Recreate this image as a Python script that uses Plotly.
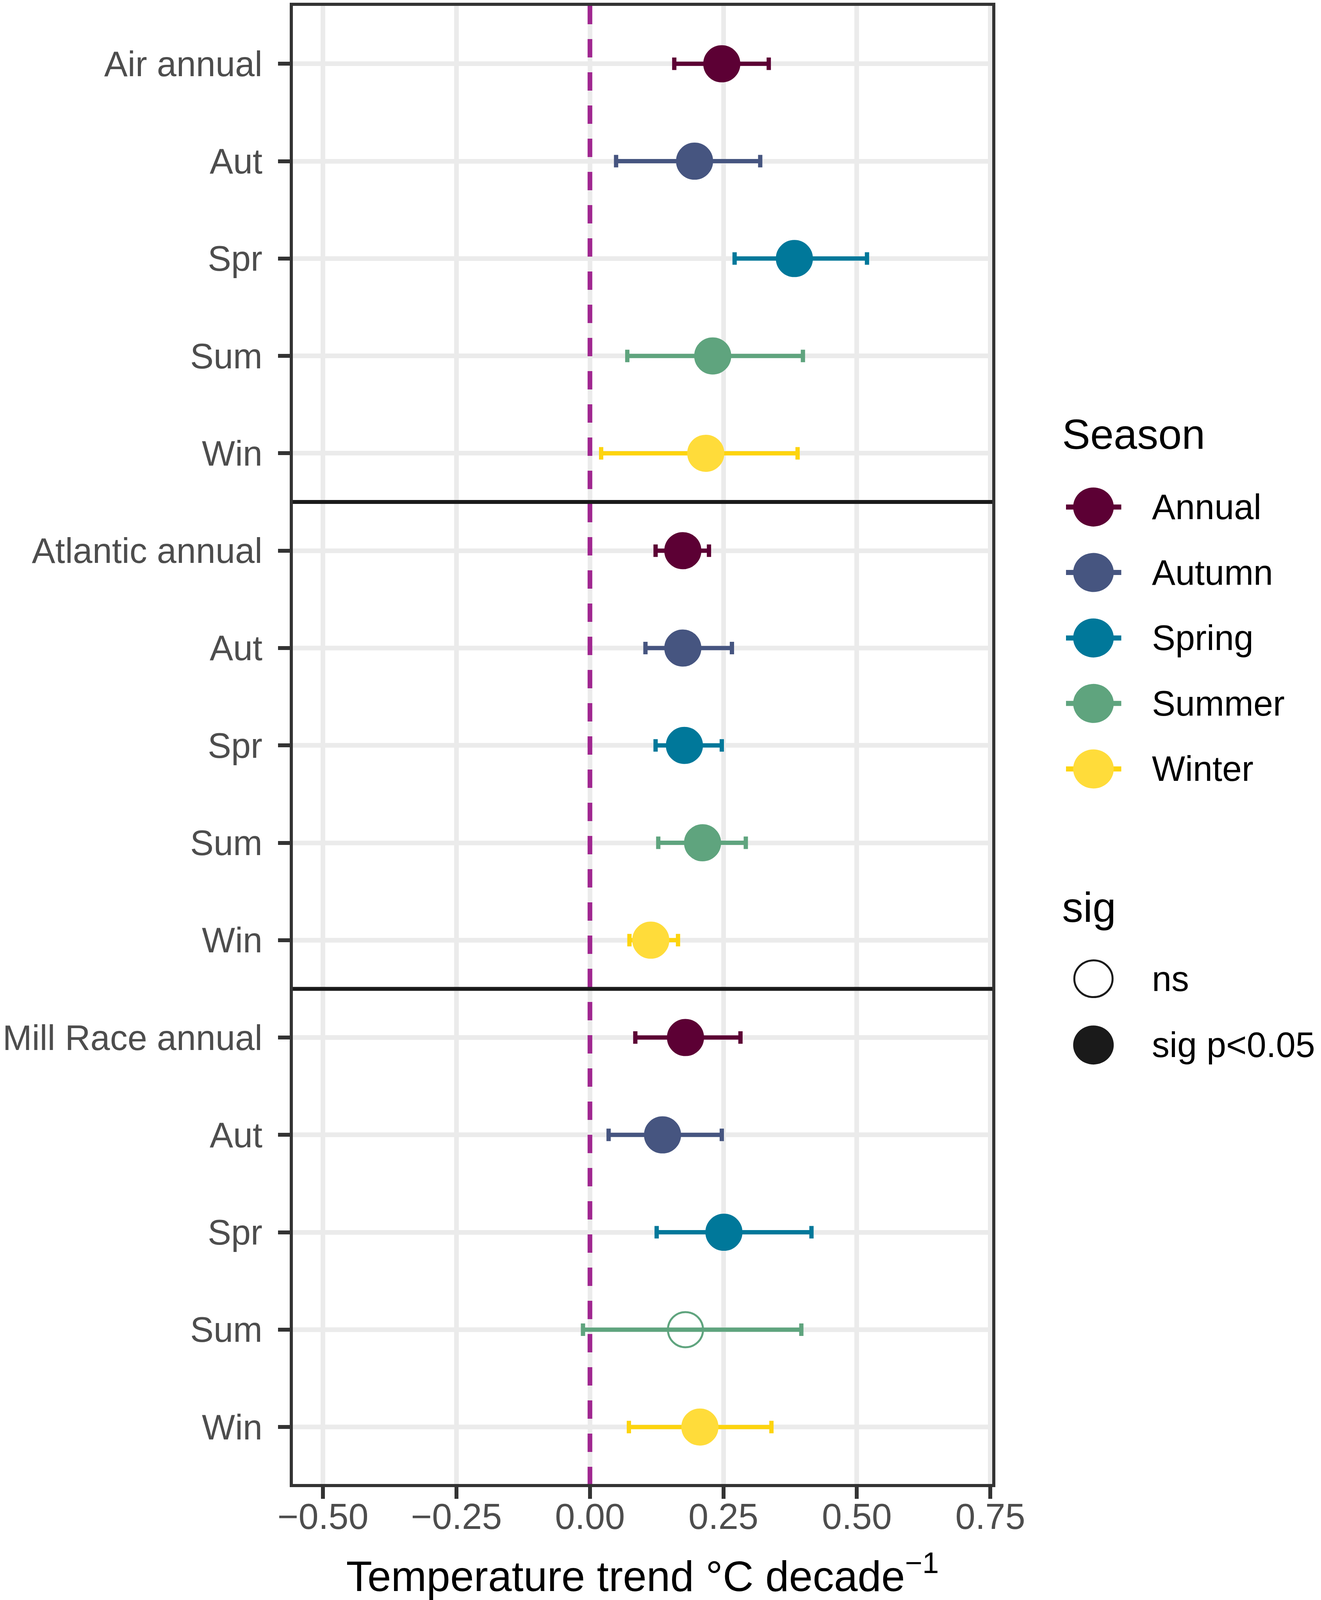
import plotly.graph_objects as go

# ---------------- data ----------------
sites = ["Air", "Atlantic", "Mill Race"]
seasons = ["Annual", "Autumn", "Spring", "Summer", "Winter"]
row_labels = ["Air annual", "Aut", "Spr", "Sum", "Win",
              "Atlantic annual", "Aut", "Spr", "Sum", "Win",
              "Mill Race annual", "Aut", "Spr", "Sum", "Win"]

# trend estimates (°C per decade), one list per site, ordered as `seasons`
trend_air = [0.247, 0.196, 0.383, 0.230, 0.217]
trend_atl = [0.174, 0.174, 0.177, 0.211, 0.114]
trend_mill = [0.179, 0.136, 0.251, 0.179, 0.206]

lower_air = [0.158, 0.049, 0.271, 0.070, 0.021]
lower_atl = [0.123, 0.104, 0.123, 0.128, 0.074]
lower_mill = [0.085, 0.035, 0.125, -0.013, 0.073]

upper_air = [0.335, 0.319, 0.519, 0.399, 0.389]
upper_atl = [0.223, 0.266, 0.247, 0.292, 0.165]
upper_mill = [0.282, 0.247, 0.415, 0.396, 0.340]

sig_air = ["sig p<0.05"] * 5
sig_atl = ["sig p<0.05"] * 5
sig_mill = ["sig p<0.05", "sig p<0.05", "sig p<0.05", "ns", "sig p<0.05"]

sig_levels = ["ns", "sig p<0.05"]

x_tickvals = [-0.50, -0.25, 0.00, 0.25, 0.50, 0.75]
x_ticktext = ["\u22120.50", "\u22120.25", "0.00", "0.25", "0.50", "0.75"]

# ---------------- styles ----------------
season_colors = ["#5C0034", "#465580", "#00789A", "#5FA47E", "#FFDC3A"]
bar_colors = ["#5C0034", "#465580", "#00789A", "#5FA47E", "#FDD40E"]
FONT = "Liberation Sans, Arial, sans-serif"

W, H0 = 3383, 4291            # reference canvas
L, R, T0, B0 = 731, 2541, 7, 3980  # plot area in reference pixels
H = 4080                      # static height that fits the visible viewport
s = H / H0


def px_x(px):
    return (px - L) / (R - L)


def px_y(py):
    return (B0 - py) / (B0 - T0)


trend = [trend_air, trend_atl, trend_mill]
lower = [lower_air, lower_atl, lower_mill]
upper = [upper_air, upper_atl, upper_mill]
sig = [sig_air, sig_atl, sig_mill]

fig = go.Figure()

for j, season in enumerate(seasons):
    xs, ys, ep, em, syms = [], [], [], [], []
    for i in range(len(sites)):
        v = trend[i][j]
        xs.append(v)
        ys.append(i * len(seasons) + j)
        ep.append(upper[i][j] - v)
        em.append(v - lower[i][j])
        syms.append("circle" if sig[i][j] == "sig p<0.05" else "circle-open")
    fig.add_trace(go.Scatter(
        x=xs, y=ys, mode="markers", name=season, showlegend=False,
        marker=dict(size=90, color=season_colors[j], symbol=syms,
                    line=dict(width=5, color=season_colors[j])),
        error_x=dict(type="data", symmetric=False, array=ep, arrayminus=em,
                     color=bar_colors[j], thickness=11, width=16),
    ))

n_rows = len(row_labels)
y_lo, y_hi = -0.595, n_rows - 1 + 0.585

shapes = []
# vertical reference line at zero (above the grid, below the data)
shapes.append(dict(type="line", xref="x", yref="y", x0=0, x1=0, y0=y_lo, y1=y_hi,
                   line=dict(color="#A02790", width=12, dash="47px,38px"), layer="between"))
# dividers between the three groups
for k in range(1, len(sites)):
    yv = k * len(seasons) - 0.5
    shapes.append(dict(type="line", xref="paper", yref="y", x0=0, x1=1, y0=yv, y1=yv,
                       line=dict(color="#1A1A1A", width=10), layer="above"))

annotations = []
# ---- manual legend: Season ----
leg_x_title = 2720
key_cx = 2803
key_x0, key_x1 = 2732, 2875
label_x = 2952
season_rows = [1354, 1530, 1706, 1882, 2058]
annotations.append(dict(xref="paper", yref="paper", x=px_x(leg_x_title), y=px_y(1158),
                        text="Season", showarrow=False, xanchor="left", yanchor="middle",
                        font=dict(family=FONT, size=108, color="#000000")))
for j, season in enumerate(seasons):
    cy = season_rows[j]
    shapes.append(dict(type="line", xref="paper", yref="paper",
                       x0=px_x(key_x0), x1=px_x(key_x1), y0=px_y(cy), y1=px_y(cy),
                       line=dict(color=bar_colors[j], width=13), layer="above"))
    shapes.append(dict(type="circle", xref="paper", yref="paper",
                       xsizemode="pixel", ysizemode="pixel",
                       xanchor=px_x(key_cx), yanchor=px_y(cy),
                       x0=-52, x1=52, y0=-50, y1=50,
                       fillcolor=season_colors[j], line=dict(width=0), layer="above"))
    annotations.append(dict(xref="paper", yref="paper", x=px_x(label_x), y=px_y(cy),
                            text=season, showarrow=False, xanchor="left", yanchor="middle",
                            font=dict(family=FONT, size=90, color="#000000")))

# ---- manual legend: sig ----
annotations.append(dict(xref="paper", yref="paper", x=px_x(leg_x_title), y=px_y(2430),
                        text="sig", showarrow=False, xanchor="left", yanchor="middle",
                        font=dict(family=FONT, size=108, color="#000000")))
sig_rows = [2622, 2800]
for k, lev in enumerate(sig_levels):
    cy = sig_rows[k]
    if lev == "ns":
        shapes.append(dict(type="circle", xref="paper", yref="paper",
                           xsizemode="pixel", ysizemode="pixel",
                           xanchor=px_x(key_cx), yanchor=px_y(cy),
                           x0=-49, x1=49, y0=-47, y1=47,
                           fillcolor="rgba(0,0,0,0)", line=dict(width=5, color="#1A1A1A"),
                           layer="above"))
    else:
        shapes.append(dict(type="circle", xref="paper", yref="paper",
                           xsizemode="pixel", ysizemode="pixel",
                           xanchor=px_x(key_cx), yanchor=px_y(cy),
                           x0=-52, x1=52, y0=-50, y1=50,
                           fillcolor="#1A1A1A", line=dict(width=0), layer="above"))
    annotations.append(dict(xref="paper", yref="paper", x=px_x(label_x), y=px_y(cy),
                            text=lev.replace("<", "&lt;"), showarrow=False,
                            xanchor="left", yanchor="middle",
                            font=dict(family=FONT, size=90, color="#000000")))

fig.update_layout(
    width=W, height=H,
    margin=dict(l=L, r=W - R, t=T0 * s, b=(H0 - B0) * s, pad=0),
    paper_bgcolor="white", plot_bgcolor="white",
    font=dict(family=FONT, color="#000000"),
    shapes=shapes, annotations=annotations,
    showlegend=False,
    xaxis=dict(range=[-0.5565, 0.7536], tickvals=x_tickvals, ticktext=x_ticktext,
               showgrid=True, gridcolor="#EBEBEB", gridwidth=12, zeroline=False,
               showline=True, linecolor="#333333", linewidth=8, mirror=True,
               ticks="outside", ticklen=30, tickwidth=10, tickcolor="#333333",
               tickfont=dict(family=FONT, size=92, color="#4D4D4D"),
               ticklabelstandoff=-33,
               title=dict(text="Temperature trend °C decade<sup>\u22121</sup>",
                          font=dict(family=FONT, size=109, color="#000000"),
                          standoff=70)),
    yaxis=dict(range=[y_hi, y_lo],
               tickvals=list(range(n_rows)), ticktext=row_labels,
               showgrid=True, gridcolor="#EBEBEB", gridwidth=12, zeroline=False,
               showline=True, linecolor="#333333", linewidth=8, mirror=True,
               ticks="outside", ticklen=30, tickwidth=10, tickcolor="#333333",
               tickfont=dict(family=FONT, size=90, color="#4D4D4D"),
               ticklabelstandoff=22),
)

# fit the figure to the visible window height (keeps all text on screen)
post = """
document.documentElement.style.margin='0';
document.body.style.margin='0';
document.body.style.overflow='hidden';
var gd = document.getElementById('{plot_id}');
var h = window.innerHeight;
if (h && Math.abs(h - %d) > 2) {
  var s = h / %d;
  Plotly.relayout(gd, {height: h, 'margin.t': %d * s, 'margin.b': %d * s});
}
""" % (H, H0, T0, H0 - B0)

fig.write_html("out.html", post_script=post, config={"displayModeBar": False})
